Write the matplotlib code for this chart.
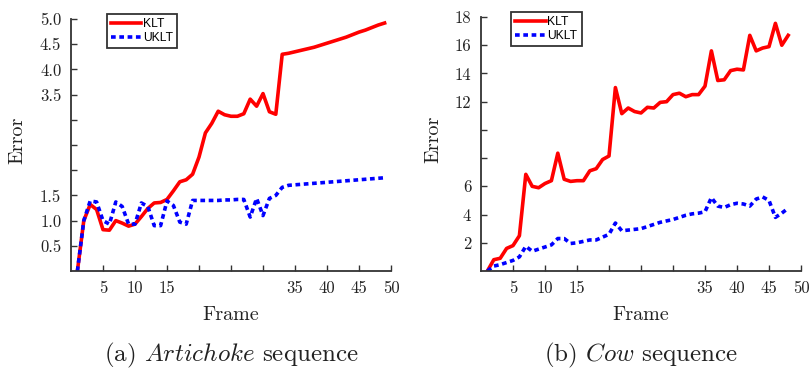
import matplotlib
matplotlib.use('Agg')
import matplotlib.pyplot as plt

plt.rcParams['font.family'] = 'serif'
plt.rcParams['font.serif'] = ['cmr10']
plt.rcParams['mathtext.fontset'] = 'cm'
plt.rcParams['axes.formatter.use_mathtext'] = True

# (a) Artichoke sequence
art_frames = list(range(1, 50))
art_klt = [0, 1.0, 1.32, 1.22, 0.82, 0.81, 1.0, 0.95, 0.89, 0.93,
           1.08, 1.24, 1.35, 1.36, 1.42, 1.59, 1.77, 1.81, 1.92, 2.26,
           2.74, 2.93, 3.17, 3.10, 3.07, 3.07, 3.12, 3.41, 3.27, 3.52,
           3.16, 3.11, 4.30, 4.32, 4.35, 4.38, 4.41, 4.44, 4.48, 4.52,
           4.56, 4.60, 4.64, 4.69, 4.74, 4.78, 4.83, 4.88, 4.92]
art_uklt = [0, 1.0, 1.39, 1.37, 1.0, 0.93, 1.37, 1.28, 0.93, 0.93,
            1.35, 1.28, 0.9, 0.9, 1.39, 1.30, 0.97, 0.93, 1.40, 1.40,
            1.40, 1.40, 1.40, 1.41, 1.41, 1.42, 1.42, 1.07, 1.44, 1.10,
            1.44, 1.50, 1.66, 1.70, 1.71, 1.72, 1.73, 1.74, 1.75, 1.76,
            1.77, 1.78, 1.79, 1.80, 1.81, 1.82, 1.83, 1.84, 1.85]

# (b) Cow sequence
cow_frames = list(range(1, 49))
cow_klt = [0, 0.8, 0.9, 1.6, 1.8, 2.5, 6.85, 6.0, 5.9, 6.2,
           6.4, 8.35, 6.5, 6.35, 6.4, 6.4, 7.1, 7.25, 7.9, 8.15,
           13.0, 11.15, 11.55, 11.3, 11.2, 11.6, 11.55, 11.95, 12.0, 12.5,
           12.6, 12.35, 12.5, 12.5, 13.1, 15.6, 13.5, 13.55, 14.2, 14.3,
           14.25, 16.7, 15.6, 15.8, 15.9, 17.55, 16.0, 16.7]
cow_uklt = [0, 0.35, 0.45, 0.6, 0.75, 1.0, 1.75, 1.4, 1.55, 1.7,
            1.85, 2.3, 2.3, 1.95, 2.0, 2.1, 2.2, 2.2, 2.4, 2.6,
            3.4, 2.85, 2.9, 2.95, 3.0, 3.15, 3.3, 3.45, 3.55, 3.65,
            3.8, 3.95, 4.05, 4.1, 4.2, 5.2, 4.6, 4.5, 4.7, 4.8,
            4.75, 4.6, 5.1, 5.25, 5.0, 3.8, 4.1, 4.45]

x_ticks = [5, 10, 15, 20, 25, 30, 35, 40, 45, 50]
x_labels = ['5', '10', '15', '', '', '', '35', '40', '45', '50']
art_yticks = [0.5, 1.0, 1.5, 2.0, 2.5, 3.0, 3.5, 4.0, 4.5, 5.0]
art_ylabels = ['0.5', '1.0', '1.5', '', '', '', '3.5', '4.0', '4.5', '5.0']
cow_yticks = [2, 4, 6, 8, 10, 12, 14, 16, 18]
cow_ylabels = ['2', '4', '6', '', '', '12', '14', '16', '18']

fig = plt.figure(figsize=(8.09, 3.70), dpi=100)
ax1 = fig.add_axes([71/809, 99/370, 320/809, 252/370])
ax2 = fig.add_axes([481/809, 99/370, 320/809, 254/370])

panels = [
    (ax1, art_frames, art_klt, art_uklt, (0, 5), art_yticks, art_ylabels,
     0.112, -0.14, r'(a) $\mathit{Artichoke}$ sequence'),
    (ax2, cow_frames, cow_klt, cow_uklt, (0, 18), cow_yticks, cow_ylabels,
     0.094, -0.122, r'(b) $\mathit{Cow}$ sequence'),
]

for ax, fr, klt, uklt, ylim, yt, yl, legx, labx, cap in panels:
    ax.plot(fr, klt, color='#ff0000', lw=2.6, label='KLT', solid_joinstyle='round')
    ax.plot(fr, uklt, color='#0000ff', lw=2.6, dashes=(1.3, 1.0),
            dash_capstyle='butt', label='UKLT')
    ax.set_xlim(0, 50)
    ax.set_ylim(*ylim)
    ax.set_xticks(x_ticks)
    ax.set_xticklabels(x_labels)
    ax.set_yticks(yt)
    ax.set_yticklabels(yl)
    for s in ['top', 'right']:
        ax.spines[s].set_visible(False)
    for s in ['left', 'bottom']:
        ax.spines[s].set_color('#333333')
        ax.spines[s].set_linewidth(1.3)
    ax.tick_params(direction='in', length=4, width=1.0, color='#333333',
                   labelsize=12, pad=7, labelcolor='#222222')
    ax.set_xlabel('Frame', fontsize=14.5, color='#222222')
    ax.set_ylabel('Error', fontsize=14.5, color='#222222')
    ax.xaxis.set_label_coords(0.5, -0.14)
    ax.yaxis.set_label_coords(labx, 0.52)
    leg = ax.legend(loc='upper left', bbox_to_anchor=(legx, 1.02),
                    prop={'family': 'Liberation Sans', 'size': 8.7},
                    frameon=True, fancybox=False, handlelength=2.5,
                    handletextpad=0.15, borderpad=0.35, labelspacing=0.15,
                    borderaxespad=0)
    leg.get_frame().set_edgecolor('black')
    leg.get_frame().set_linewidth(1.3)
    pos = ax.get_position()
    fig.text((pos.x0 + pos.x1) / 2, 0.024, cap, ha='center', va='baseline',
             fontsize=18, color='#222222')

fig.savefig('out.png', dpi=100)
